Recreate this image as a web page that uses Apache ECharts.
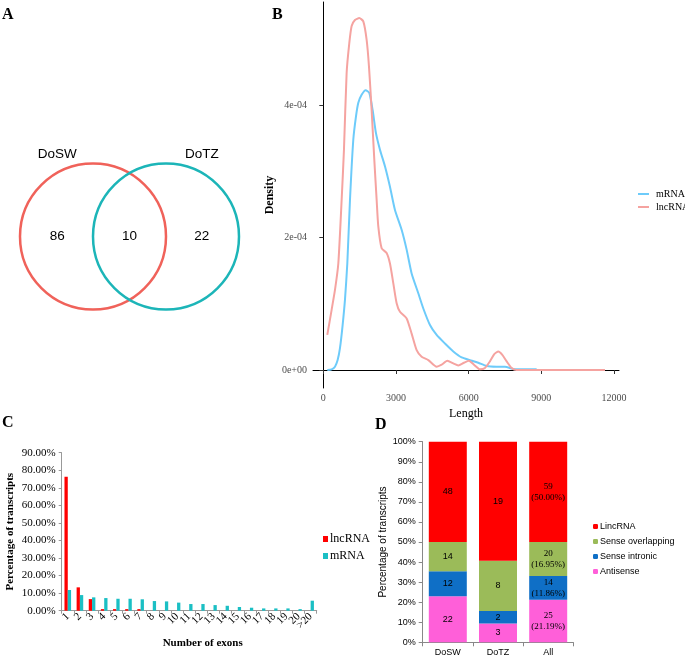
<!DOCTYPE html>
<html>
<head>
<meta charset="utf-8">
<script src="https://cdn.jsdelivr.net/npm/echarts@6/dist/echarts.min.js"></script>
<style>
  html, body { margin: 0; padding: 0; background: #fff; }
  #main { width: 685px; height: 664px; }
</style>
</head>
<body>
<div id="main"></div>
<script>
// ---- A: venn ----
var vennSets = ['DoSW', 'DoTZ'];
var vennCounts = [86, 10, 22];   // DoSW only, shared, DoTZ only

// ---- B: length density (density in units of 1e-4) ----
var lenMRNA  = [165, 344, 482, 592, 688, 798, 894, 991, 1101, 1238, 1348, 1445, 1582, 1747, 1899, 2036, 2174, 2339, 2545, 2752, 2958, 3233, 3440, 3646, 3921, 4128, 4403, 4678, 5022, 5366, 5710, 6054, 6398, 6742, 7155, 7499, 7843, 8256, 8806];
var densMRNA = [0, 0.01, 0.05, 0.15, 0.33, 0.68, 1.06, 1.61, 2.57, 3.48, 3.83, 4.04, 4.16, 4.23, 4.19, 3.93, 3.58, 3.33, 3.08, 2.77, 2.42, 2.12, 1.82, 1.46, 1.16, 0.93, 0.68, 0.53, 0.40, 0.28, 0.19, 0.15, 0.11, 0.06, 0.05, 0.05, 0.015, 0.01, 0.01];
var lenLnc   = [165, 344, 482, 620, 757, 853, 963, 1073, 1170, 1307, 1486, 1651, 1789, 1885, 1995, 2105, 2202, 2270, 2408, 2614, 2752, 2890, 3027, 3165, 3440, 3646, 3853, 4059, 4334, 4678, 4884, 5118, 5366, 5572, 5806, 6013, 6219, 6467, 6673, 6879, 7058, 7224, 7389, 7568, 7774, 7980, 9000, 10000, 11627];
var densLnc  = [0.53, 0.91, 1.21, 1.61, 2.57, 3.33, 4.49, 4.94, 5.20, 5.29, 5.32, 5.27, 4.99, 4.59, 3.93, 3.18, 2.57, 2.17, 1.84, 1.77, 1.61, 1.31, 1.01, 0.88, 0.78, 0.55, 0.30, 0.20, 0.15, 0.05, 0.08, 0.14, 0.10, 0.07, 0.11, 0.14, 0.08, 0.01, 0.03, 0.13, 0.24, 0.28, 0.23, 0.13, 0.03, 0, 0, 0, 0];
var lenTicks = [0, 3000, 6000, 9000, 12000];
var densTicks = [0, 2, 4];

// ---- C: exon number ----
var exonCats = ['1', '2', '3', '4', '5', '6', '7', '8', '9', '10', '11', '12', '13', '14', '15', '16', '17', '18', '19', '20', '>20'];
var exonLnc  = [76.3, 13.3, 6.6, 0.9, 0.9, 0.9, 0.9, 0, 0, 0, 0, 0, 0, 0, 0, 0, 0, 0, 0, 0, 0];
var exonMRNA = [11.8, 8.9, 7.6, 7.2, 6.8, 6.8, 6.5, 5.5, 5.3, 4.6, 3.8, 3.8, 3.2, 2.8, 2.1, 1.7, 1.3, 1.3, 1.3, 0.9, 5.7];

// ---- D: lncRNA classes ----
var groups = ['DoSW', 'DoTZ', 'All'];
var classNames = ['LincRNA', 'Sense overlapping', 'Sense intronic', 'Antisense'];
var lincCnt  = [48, 19, 59];
var overCnt  = [14, 8, 20];
var intrCnt  = [12, 2, 14];
var antiCnt  = [22, 3, 25];

var serif = '"Liberation Serif", "Times New Roman", serif';
var sans = '"Liberation Sans", Arial, sans-serif';

var totals = groups.map(function (g, i) { return lincCnt[i] + overCnt[i] + intrCnt[i] + antiCnt[i]; });

function classSeries(name, counts, color) {
    return {
        name: name, type: 'bar', stack: 'cls', xAxisIndex: 3, yAxisIndex: 3,
        barWidth: 38, itemStyle: { color: color },
        label: {
            show: true, position: 'inside', color: '#000', fontSize: 9, fontFamily: sans,
            formatter: function (p) {
                var c = counts[p.dataIndex];
                if (groups[p.dataIndex] === 'All') {
                    return c + '\n(' + (c / totals[p.dataIndex] * 100).toFixed(2) + '%)';
                }
                return '' + c;
            }
        },
        data: counts.map(function (c, i) {
            var item = { value: c / totals[i] * 100 };
            if (groups[i] === 'All') item.label = { fontFamily: serif, lineHeight: 11 };
            return item;
        })
    };
}

var myChart = echarts.init(document.getElementById('main'));

var option = {
    backgroundColor: '#fff',
    animation: false,
    title: [
        { text: 'A', left: 2, top: 7, padding: 0, textStyle: { fontFamily: serif, fontSize: 16, fontWeight: 'bold', color: '#000' } },
        { text: 'B', left: 272, top: 7, padding: 0, textStyle: { fontFamily: serif, fontSize: 16, fontWeight: 'bold', color: '#000' } },
        { text: 'C', left: 2, top: 415, padding: 0, textStyle: { fontFamily: serif, fontSize: 16, fontWeight: 'bold', color: '#000' } },
        { text: 'D', left: 375, top: 417, padding: 0, textStyle: { fontFamily: serif, fontSize: 16, fontWeight: 'bold', color: '#000' } }
    ],
    legend: [
        {
            orient: 'vertical', left: 633, top: 184, itemWidth: 11, itemHeight: 2, itemGap: 3,
            textStyle: { fontFamily: serif, fontSize: 10, color: '#000', padding: [0, 0, 0, 2] },
            data: [
                { name: 'mRNA', icon: 'rect', itemStyle: { color: '#6DCBFA', borderWidth: 0 } },
                { name: 'lncRNA', icon: 'rect', itemStyle: { color: '#F5A3A0', borderWidth: 0 } }
            ]
        },
        {
            orient: 'vertical', left: 318, top: 528, itemWidth: 5, itemHeight: 6, itemGap: 5,
            textStyle: { fontFamily: serif, fontSize: 12, color: '#000', padding: [0, 0, 0, -3] },
            data: [
                { name: 'lncRNA', icon: 'rect', itemStyle: { color: '#FF0000', borderWidth: 0 } },
                { name: 'mRNA', icon: 'rect', itemStyle: { color: '#1BBFC4', borderWidth: 0 } }
            ]
        },
        {
            orient: 'vertical', left: 588, top: 517, itemWidth: 5, itemHeight: 5, itemGap: 6,
            textStyle: { fontFamily: sans, fontSize: 9, color: '#000', padding: [0, 0, 0, -3] },
            data: classNames
        }
    ],
    grid: [
        { left: 5.4, top: 127, width: 233.6, height: 219 },
        { left: 313, top: 2, width: 306, height: 386 },
        { left: 61.7, top: 452.7, width: 255, height: 158 },
        { left: 422.7, top: 441.7, width: 150.6, height: 200.6 }
    ],
    xAxis: [
        { gridIndex: 0, type: 'value', min: -1.2, max: 2.0, show: false },
        {
            gridIndex: 1, type: 'value', min: -425, max: 12205,
            name: 'Length', nameLocation: 'middle', nameGap: 19,
            nameTextStyle: { fontFamily: serif, fontSize: 12, color: '#000' },
            axisLine: { show: true, lineStyle: { color: '#000', width: 1 } },
            axisTick: { show: true, length: 4, customValues: lenTicks, lineStyle: { color: '#333' } },
            axisLabel: {
                customValues: lenTicks, margin: 5, fontFamily: serif, fontSize: 10, color: '#4D4D4D',
                formatter: function (v) { return String(v); }
            },
            splitLine: { show: false }
        },
        {
            gridIndex: 2, type: 'category', data: exonCats,
            name: 'Number of exons', nameLocation: 'middle', nameGap: 27,
            nameTextStyle: { fontFamily: serif, fontSize: 11, fontWeight: 'bold', color: '#000', padding: [0, 0, 0, 27] },
            axisLine: { lineStyle: { color: '#999' } },
            axisTick: { show: true, length: 3, lineStyle: { color: '#999' } },
            axisLabel: { interval: 0, rotate: 45, margin: 4, fontFamily: serif, fontSize: 11, color: '#000' }
        },
        {
            gridIndex: 3, type: 'category', data: groups,
            axisLine: { lineStyle: { color: '#888' } },
            axisTick: { show: true, length: 4, lineStyle: { color: '#888' } },
            axisLabel: { margin: 6, fontFamily: sans, fontSize: 9, color: '#000' }
        }
    ],
    yAxis: [
        { gridIndex: 0, type: 'value', min: -1.5, max: 1.5, show: false },
        {
            gridIndex: 1, type: 'value', min: -0.272, max: 5.563,
            name: 'Density', nameLocation: 'middle', nameGap: 37, nameRotate: 90,
            nameTextStyle: { fontFamily: serif, fontSize: 12, fontWeight: 'bold', color: '#000' },
            axisLine: { show: true, lineStyle: { color: '#000', width: 1 } },
            axisTick: { show: true, length: 4, customValues: densTicks, lineStyle: { color: '#333' } },
            axisLabel: {
                customValues: densTicks, margin: 6, fontFamily: serif, fontSize: 10, color: '#4D4D4D',
                formatter: function (v) { return v === 0 ? '0e+00' : v + 'e-04'; }
            },
            splitLine: { show: false }
        },
        {
            gridIndex: 2, type: 'value', min: 0, max: 90, interval: 10,
            name: 'Percentage of transcripts', nameLocation: 'middle', nameGap: 46, nameRotate: 90,
            nameTextStyle: { fontFamily: serif, fontSize: 11, fontWeight: 'bold', color: '#000' },
            axisLine: { show: true, lineStyle: { color: '#999' } },
            axisTick: { show: true, length: 3, lineStyle: { color: '#999' } },
            axisLabel: { margin: 6, fontFamily: serif, fontSize: 11, color: '#000', formatter: function (v) { return v.toFixed(2) + '%'; } },
            splitLine: { show: false }
        },
        {
            gridIndex: 3, type: 'value', min: 0, max: 100, interval: 10,
            name: 'Percentage of transcripts', nameLocation: 'middle', nameGap: 34, nameRotate: 90,
            nameTextStyle: { fontFamily: sans, fontSize: 10, color: '#000' },
            axisLine: { show: true, lineStyle: { color: '#888' } },
            axisTick: { show: true, length: 4, lineStyle: { color: '#888' } },
            axisLabel: { margin: 7, fontFamily: sans, fontSize: 9, color: '#000', formatter: '{value}%' },
            splitLine: { show: false }
        }
    ],
    series: [
        // B
        {
            name: 'mRNA', type: 'line', xAxisIndex: 1, yAxisIndex: 1, smooth: 0.2, showSymbol: false, symbol: 'none',
            lineStyle: { color: '#6DCBFA', width: 2 }, itemStyle: { color: '#6DCBFA' },
            data: lenMRNA.map(function (x, i) { return [x, densMRNA[i]]; })
        },
        {
            name: 'lncRNA', type: 'line', xAxisIndex: 1, yAxisIndex: 1, smooth: 0.2, showSymbol: false, symbol: 'none',
            lineStyle: { color: '#F5A3A0', width: 2 }, itemStyle: { color: '#F5A3A0' },
            data: lenLnc.map(function (x, i) { return [x, densLnc[i]]; })
        },
        // A
        {
            type: 'custom', xAxisIndex: 0, yAxisIndex: 0, silent: true,
            data: [[0, 0, 0], [1, 0, 1]],
            renderItem: function (params, api) {
                var c = api.coord([api.value(0), api.value(1)]);
                var r = api.size([1, 1])[0];
                var col = ['#F0625A', '#1CB5B8'][api.value(2)];
                return { type: 'circle', shape: { cx: c[0], cy: c[1], r: r }, style: { fill: 'none', stroke: col, lineWidth: 2.5 } };
            }
        },
        {
            type: 'custom', xAxisIndex: 0, yAxisIndex: 0, silent: true,
            data: [
                [-0.49, 1.12, vennSets[0]], [1.49, 1.12, vennSets[1]],
                [-0.49, 0, vennCounts[0]], [0.5, 0, vennCounts[1]], [1.49, 0, vennCounts[2]]
            ],
            renderItem: function (params, api) {
                var c = api.coord([api.value(0), api.value(1)]);
                return {
                    type: 'text', x: c[0], y: c[1],
                    style: { text: String(api.value(2)), fontFamily: sans, fontSize: 13.5, fill: '#000', align: 'center', verticalAlign: 'middle' }
                };
            },
            encode: { x: 0, y: 1 },
            dimensions: ['x', 'y', { name: 't', type: 'ordinal' }]
        },
        // C
        {
            name: 'lncRNA', type: 'bar', xAxisIndex: 2, yAxisIndex: 2, barWidth: 3.3, barGap: '0%',
            itemStyle: { color: '#FF0000' }, data: exonLnc
        },
        {
            name: 'mRNA', type: 'bar', xAxisIndex: 2, yAxisIndex: 2, barWidth: 3.3, barGap: '0%',
            itemStyle: { color: '#1BBFC4' }, data: exonMRNA
        },
        // D
        classSeries('Antisense', antiCnt, '#FF5FD9'),
        classSeries('Sense intronic', intrCnt, '#0F6FC6'),
        classSeries('Sense overlapping', overCnt, '#9BBB59'),
        classSeries('LincRNA', lincCnt, '#FF0000')
    ]
};

myChart.setOption(option);
</script>
</body>
</html>
